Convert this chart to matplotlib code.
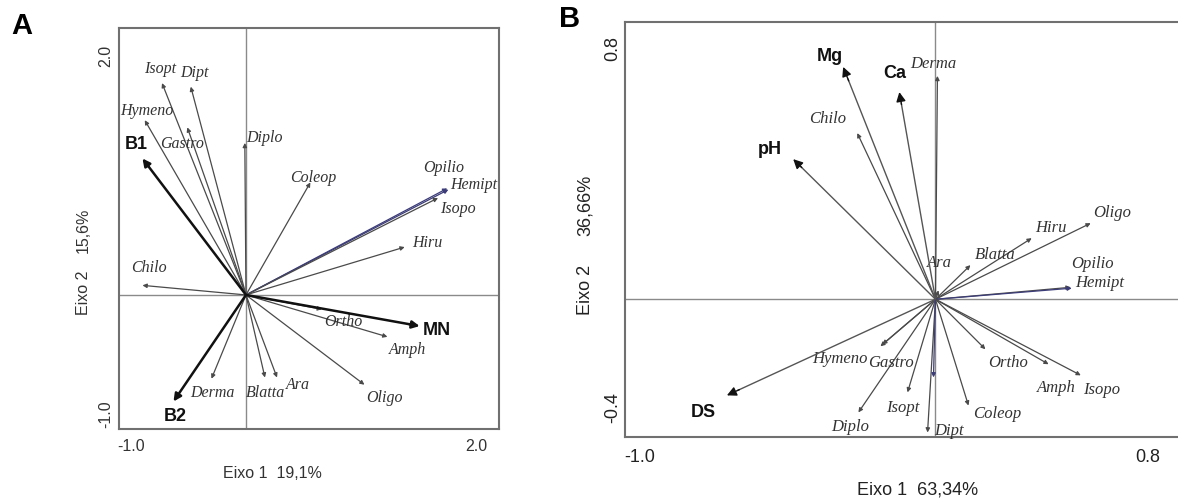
import matplotlib.pyplot as plt

plt.rcParams['font.family'] = ['Liberation Sans', 'DejaVu Sans']

W, H = 1178, 501

# --- Painel A: RDA, especies e variaveis (Eixo 1 / Eixo 2)
sp_a = ['Isopt', 'Dipt', 'Hymeno', 'Gastro', 'Diplo', 'Coleop', 'Opilio', 'Hemipt',
        'Isopo', 'Hiru', 'Chilo', 'Ortho', 'Amph', 'Oligo', 'Ara', 'Blatta', 'Derma']
sp_a_x = [-0.73, -0.48, -0.88, -0.51, -0.01, 0.56, 1.75, 1.76,
          1.67, 1.38, -0.90, 0.66, 1.23, 1.03, 0.27, 0.165, -0.30]
sp_a_y = [1.77, 1.74, 1.46, 1.40, 1.27, 0.94, 0.89, 0.88,
          0.81, 0.40, 0.08, -0.12, -0.35, -0.75, -0.69, -0.69, -0.70]
env_a = ['B1', 'MN', 'B2']
env_a_x = [-0.90, 1.51, -0.63]
env_a_y = [1.14, -0.26, -0.89]

# --- Painel B
sp_b = ['Derma', 'Chilo', 'Hiru', 'Oligo', 'Blatta', 'Ara', 'Opilio', 'Hemipt',
        'Hymeno', 'Gastro', 'Ortho', 'Amph', 'Isopo', 'Isopt', 'Diplo', 'Dipt', 'Coleop', '']
sp_b_x = [0.007, -0.277, 0.341, 0.550, 0.124, 0.011, 0.479, 0.483,
          -0.195, -0.188, 0.177, 0.401, 0.515, -0.099, -0.273, -0.028, 0.117, -0.007]
sp_b_y = [0.746, 0.555, 0.204, 0.254, 0.114, 0.030, 0.040, 0.037,
          -0.157, -0.151, -0.167, -0.217, -0.254, -0.311, -0.378, -0.445, -0.355, -0.261]
env_b = ['Mg', 'Ca', 'pH', 'DS']
env_b_x = [-0.327, -0.128, -0.504, -0.739]
env_b_y = [0.776, 0.692, 0.468, -0.321]

# posicao dos rotulos (pixels em relacao a ponta da seta)
off_a = {'Isopt': (-2, 14), 'Dipt': (4, 14), 'Hymeno': (2, 9), 'Gastro': (-5, -17),
         'Diplo': (20, 5), 'Coleop': (3, 4), 'Opilio': (-4, 20), 'Hemipt': (25, 5),
         'Isopo': (20, -11), 'Hiru': (23, 4), 'Chilo': (6, 17), 'Ortho': (21, -13),
         'Amph': (20, -13), 'Oligo': (20, -13), 'Ara': (21, -7), 'Blatta': (1, -15),
         'Derma': (1, -14), 'B1': (-6, 14), 'MN': (17, -4), 'B2': (2, -15)}
off_b = {'Derma': (-4, 12), 'Chilo': (-30, 14), 'Hiru': (19, 10), 'Oligo': (21, 10),
         'Blatta': (25, 10), 'Ara': (1, 27), 'Opilio': (22, 23), 'Hemipt': (28, 5),
         'Hymeno': (-40, -13), 'Gastro': (9, -19), 'Ortho': (23, -14), 'Amph': (8, -24),
         'Isopo': (21, -15), 'Isopt': (-5, -16), 'Diplo': (-8, -15), 'Dipt': (21, 2),
         'Coleop': (29, -8), 'Mg': (-13, 10), 'Ca': (-5, 19), 'pH': (-23, 10), 'DS': (-24, -17)}


def px_box(left, right, top, bottom):
    return [left / W, 1 - bottom / H, (right - left) / W, (bottom - top) / H]


def draw_panel(ax, sp, sx, sy, env, ex, ey, offs, navy, fs_sp, fs_env,
               env_line, env_lw, env_head):
    ax.axhline(0, color='#8a8a8a', lw=1.0, zorder=1)
    ax.axvline(0, color='#8a8a8a', lw=1.0, zorder=1)
    for name, x, y in zip(sp, sx, sy):
        col = '#3c3c78' if name in navy else '#4a4a4a'
        ax.annotate('', xy=(x, y), xytext=(0, 0),
                    arrowprops=dict(arrowstyle='-|>', color=col, lw=0.9,
                                    mutation_scale=6, shrinkA=0, shrinkB=0), zorder=2)
        if name:
            ax.annotate(name, xy=(x, y), xytext=offs[name], textcoords='offset pixels',
                        ha='center', va='center', fontsize=fs_sp, style='italic',
                        family=['Liberation Serif', 'DejaVu Serif'], color='#333333')
    for name, x, y in zip(env, ex, ey):
        # haste e ponta separadas (ponta preta)
        ax.plot([0, x * 0.95], [0, y * 0.95], color=env_line, lw=env_lw, zorder=3,
                solid_capstyle='butt')
        ax.annotate('', xy=(x, y), xytext=(x * 0.94, y * 0.94),
                    arrowprops=dict(arrowstyle='-|>', color='#111111', lw=env_lw,
                                    mutation_scale=env_head, shrinkA=0, shrinkB=0),
                    zorder=3)
        ax.annotate(name, xy=(x, y), xytext=offs[name], textcoords='offset pixels',
                    ha='center', va='center', fontsize=fs_env, fontweight='bold',
                    color='#111111')
    for s in ax.spines.values():
        s.set_color('#707070')
        s.set_linewidth(1.5)


fig = plt.figure(figsize=(W / 100, H / 100), dpi=100)

# Painel A
ax1 = fig.add_axes(px_box(119, 499, 28, 429))
draw_panel(ax1, sp_a, sp_a_x, sp_a_y, env_a, env_a_x, env_a_y, off_a,
           ['Opilio', 'Hemipt'], 11.5, 13, '#111111', 1.8, 11)
ax1.set_xlim(-1.104, 2.2)
ax1.set_ylim(-1.12, 2.23)
ax1.set_xticks([-1.0, 2.0], ['-1.0', '2.0'])
ax1.set_yticks([-1.0, 2.0], ['-1.0', '2.0'])
ax1.tick_params(axis='x', length=0, pad=7, labelsize=11.5, labelcolor='#333333')
ax1.tick_params(axis='y', length=0, pad=4, labelsize=11.5, labelcolor='#333333',
                labelrotation=90)
for t in ax1.get_yticklabels():
    t.set_va('center')

# Painel B
ax2 = fig.add_axes(px_box(625, 1181, 22, 437))
draw_panel(ax2, sp_b, sp_b_x, sp_b_y, env_b, env_b_x, env_b_y, off_b,
           ['Hemipt', ''], 12, 13, '#555555', 1.0, 14)
ax2.set_xlim(-1.10, 0.87)
ax2.set_ylim(-0.46, 0.926)
ax2.set_xticks([-1.047, 0.753], ['-1.0', '0.8'])
ax2.set_yticks([-0.361, 0.839], ['-0.4', '0.8'])
ax2.tick_params(axis='x', length=0, pad=9, labelsize=13, labelcolor='#222222')
ax2.tick_params(axis='y', length=0, pad=3, labelsize=13, labelcolor='#222222',
                labelrotation=90)
for t in ax2.get_yticklabels():
    t.set_va('center')

# titulos dos eixos e letras dos paineis
def ftext(x, y, s, **kw):
    fig.text(x / W, 1 - y / H, s, ha='center', va='center', **kw)

ftext(272, 473, 'Eixo 1  19,1%', fontsize=11.5, color='#333333')
ftext(83, 293, 'Eixo 2', fontsize=11.5, color='#333333', rotation=90)
ftext(83, 230, '15,6%', fontsize=11.5, color='#333333', rotation=90)
ftext(918, 490, 'Eixo 1  63,34%', fontsize=13, color='#222222')
ftext(585, 290, 'Eixo 2', fontsize=13, color='#222222', rotation=90)
ftext(585, 205, '36,66%', fontsize=13, color='#222222', rotation=90)
ftext(22, 26, 'A', fontsize=21, fontweight='bold', color='black')
ftext(570, 19, 'B', fontsize=21, fontweight='bold', color='black')

plt.savefig('out.png', dpi=100)
